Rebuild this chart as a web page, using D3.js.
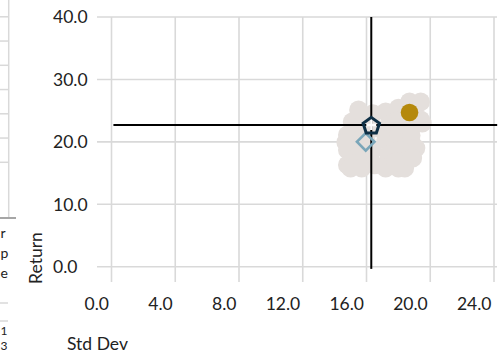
<!DOCTYPE html>
<html>
<head>
<meta charset="utf-8">
<script src="https://cdn.jsdelivr.net/npm/d3@7/dist/d3.min.js"></script>
<style>
  html, body { margin: 0; padding: 0; background: #fff; }
  svg { display: block; font-family: Lato, "Open Sans", sans-serif; }
</style>
</head>
<body>
<svg id="chart" width="501" height="354"></svg>
<script>
// Axis ticks
const xTicks = [0, 4, 8, 12, 16, 20, 24];
const yTicks = [0, 10, 20, 30, 40];

// Simulated portfolio cloud (std dev, return)
const cloudStd = [15.1, 14.8, 14.8, 14.8, 15.0, 15.5, 15.7, 15.6, 15.6, 15.7,
                  16.4, 16.5, 16.4, 16.5, 17.2, 17.4, 17.2, 17.4, 17.2, 18.0,
                  18.1, 18.0, 18.1, 18.0, 18.7, 18.9, 18.7, 18.9, 18.6, 18.4,
                  19.4, 19.4, 18.8, 19.1, 18.9, 15.2, 16.0, 17.8, 14.7, 19.5];
const cloudRet = [23.2, 21.1, 18.7, 16.3, 15.8, 25.1, 22.7, 20.3, 17.4, 15.8,
                  24.5, 22.2, 18.7, 16.3, 24.8, 22.7, 20.3, 17.9, 15.8, 25.4,
                  23.5, 21.1, 18.7, 15.8, 26.4, 24.3, 21.9, 19.5, 17.1, 15.8,
                  26.4, 23.5, 21.0, 19.0, 17.4, 19.5, 20.0, 16.8, 19.9, 23.0];

// Highlighted portfolios
const goldStd = 18.7, goldRet = 24.7;
const pentStd = 16.3, pentRet = 22.7;
const diamStd = 15.95, diamRet = 20.0;

// Crosshair extents through the highlighted portfolio
const crossStdRange = [0.12, 24.2];
const crossRetRange = [-0.35, 40];

// Neighbouring table edge fragments
const leftHeaderBits = ["r", "p", "e"];
const leftRowBits = ["1", "3"];

const svg = d3.select("#chart");

const x = d3.scaleLinear().domain([0, 24]).range([111.5, 494]);
const y = d3.scaleLinear().domain([0, 40]).range([266.7, 17]);

const gridColor = "#d9d9d9";

// Left table edge
const left = svg.append("g");
left.append("line").attr("x1", 8.7).attr("x2", 8.7).attr("y1", 0).attr("y2", 218)
  .attr("stroke", gridColor).attr("stroke-width", 1.5);
d3.range(7).forEach(i => {
  const yy = 16.8 + i * 24.25;
  left.append("line").attr("x1", 0).attr("x2", 8.7).attr("y1", yy).attr("y2", yy)
    .attr("stroke", gridColor).attr("stroke-width", 1.5);
});
left.append("line").attr("x1", 0).attr("x2", 16).attr("y1", 218).attr("y2", 218)
  .attr("stroke", "#a6a6a6").attr("stroke-width", 2);
[303, 321].forEach(yy => {
  left.append("line").attr("x1", 0).attr("x2", 8).attr("y1", yy).attr("y2", yy)
    .attr("stroke", gridColor).attr("stroke-width", 1.5);
});
left.selectAll("text.h").data(leftHeaderBits).join("text")
  .attr("class", "h").attr("x", 0.5).attr("y", (d, i) => 238 + i * 20)
  .attr("font-size", 14).attr("fill", "#222").text(d => d);
left.selectAll("text.r").data(leftRowBits).join("text")
  .attr("class", "r").attr("x", 0.5).attr("y", (d, i) => 335 + i * 15)
  .attr("font-size", 12).attr("fill", "#222").text(d => d);

// Gridlines
const grid = svg.append("g");
grid.selectAll("line.gx").data(xTicks).join("line")
  .attr("class", "gx")
  .attr("x1", d => x(d)).attr("x2", d => x(d))
  .attr("y1", y(40)).attr("y2", 282)
  .attr("stroke", gridColor).attr("stroke-width", 1.6);
grid.selectAll("line.gy").data(yTicks).join("line")
  .attr("class", "gy")
  .attr("x1", 97).attr("x2", 497)
  .attr("y1", d => y(d)).attr("y2", d => y(d))
  .attr("stroke", gridColor).attr("stroke-width", 1.6);

// Tick labels
svg.selectAll("text.yl").data(yTicks).join("text")
  .attr("class", "yl").attr("x", 53).attr("y", d => y(d)).attr("dy", "0.36em")
  .attr("font-size", 17.5).attr("fill", "#222").text(d => d.toFixed(1));
svg.selectAll("text.xl").data(xTicks).join("text")
  .attr("class", "xl").attr("x", d => x(d) - 2.5).attr("y", 310)
  .attr("text-anchor", "end")
  .attr("font-size", 17.5).attr("fill", "#222").text(d => d.toFixed(1));

// Axis titles
svg.append("text").attr("transform", "translate(42,258) rotate(-90)")
  .attr("text-anchor", "middle").attr("font-size", 17.5).attr("fill", "#222").text("Return");
svg.append("text").attr("x", 67).attr("y", 350)
  .attr("font-size", 17.5).attr("fill", "#222").text("Std Dev");

// Portfolio cloud
svg.append("g").selectAll("circle").data(d3.zip(cloudStd, cloudRet)).join("circle")
  .attr("cx", d => x(d[0])).attr("cy", d => y(d[1])).attr("r", 9.4)
  .attr("fill", "#e4dfdc");

// Crosshair
svg.append("line")
  .attr("x1", x(pentStd)).attr("x2", x(pentStd))
  .attr("y1", y(crossRetRange[1])).attr("y2", y(crossRetRange[0]))
  .attr("stroke", "#000").attr("stroke-width", 2);
svg.append("line")
  .attr("x1", x(crossStdRange[0])).attr("x2", x(crossStdRange[1]))
  .attr("y1", y(pentRet)).attr("y2", y(pentRet))
  .attr("stroke", "#000").attr("stroke-width", 2);

// Diamond marker
svg.append("path")
  .attr("transform", `translate(${x(diamStd)},${y(diamRet)}) rotate(45)`)
  .attr("d", "M-6.2,-6.2H6.2V6.2H-6.2Z")
  .attr("fill", "none").attr("stroke", "#7aa6b9").attr("stroke-width", 2.6);

// Gold marker
svg.append("circle").attr("cx", x(goldStd)).attr("cy", y(goldRet)).attr("r", 8.8)
  .attr("fill", "#b5890c");

// Pentagon marker with light centre cross
const pg = svg.append("g").attr("transform", `translate(${x(pentStd)},${y(pentRet)})`);
pg.append("path").attr("d", "M-5,0H5M0,-6V5")
  .attr("stroke", "#fff").attr("stroke-width", 2.4);
const pr = 8.6;
const pentPts = d3.range(5).map(i => {
  const a = -Math.PI / 2 + i * 2 * Math.PI / 5;
  return [pr * Math.cos(a), pr * Math.sin(a) + 1];
});
pg.append("path").attr("d", "M" + pentPts.join("L") + "Z")
  .attr("fill", "none").attr("stroke", "#0e2f45").attr("stroke-width", 3)
  .attr("stroke-linejoin", "miter");
</script>
</body>
</html>
